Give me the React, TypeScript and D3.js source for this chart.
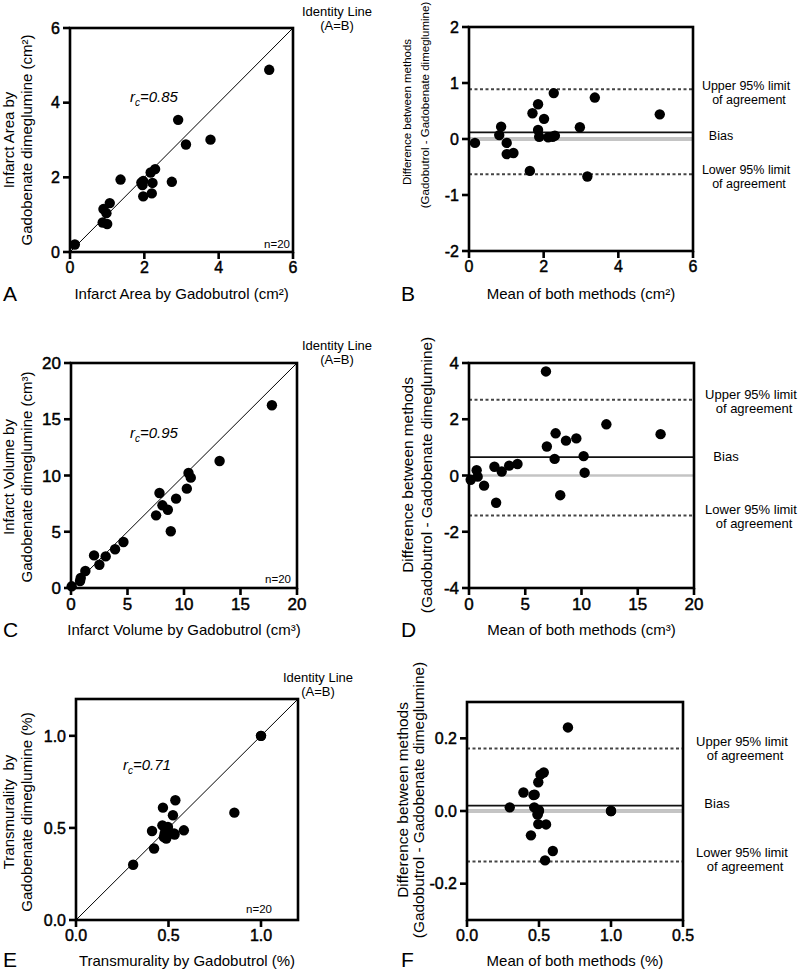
import React from "react";
import * as d3 from "d3";

const FONT = "'Liberation Sans', Arial, Helvetica, sans-serif";

// ---------- Panel A: infarct area (cm²) ----------
const areaGadobutrol = [0.13, 0.9, 1.07, 0.98, 0.88, 1.0, 1.36, 1.92, 1.95, 1.97, 1.97, 2.17, 2.29, 2.22, 2.2, 2.74, 2.91, 3.12, 3.78, 5.36];
const areaGadobenate = [0.2, 1.15, 1.31, 1.04, 0.79, 0.75, 1.94, 1.86, 1.79, 1.9, 1.49, 2.13, 2.22, 1.85, 1.57, 1.88, 3.54, 2.88, 3.01, 4.88];
const areaTicks = [0, 2, 4, 6];

// ---------- Panel B: Bland-Altman area ----------
const areaMean = [0.16, 0.81, 0.86, 1.01, 1.01, 1.19, 1.63, 1.7, 1.85, 1.85, 1.88, 2.01, 2.12, 2.24, 2.27, 2.97, 3.17, 3.37, 5.11, 2.3];
const areaDiff = [-0.07, 0.07, 0.22, -0.07, -0.27, -0.25, -0.57, 0.46, 0.62, 0.16, 0.04, 0.36, 0.03, 0.04, 0.82, 0.21, -0.67, 0.74, 0.44, 0.06];
const areaDiffTicks = [-2, -1, 0, 1, 2];
const areaLimits = [0.89, 0.12, -0.63]; // upper, bias, lower

// ---------- Panel C: infarct volume (cm³) ----------
const volGadobutrol = [0.06, 0.8, 0.86, 1.27, 2.04, 2.51, 3.07, 3.9, 4.64, 7.53, 7.83, 8.09, 8.57, 8.83, 9.3, 10.25, 10.4, 10.6, 13.15, 17.78];
const volGadobenate = [0.15, 0.62, 0.89, 1.51, 2.9, 2.07, 2.81, 3.44, 4.09, 6.46, 8.44, 7.35, 6.96, 5.04, 7.94, 8.83, 10.22, 9.81, 11.29, 16.24];
const volTicks = [0, 5, 10, 15, 20];

// ---------- Panel D: Bland-Altman volume ----------
const volMean = [0.15, 0.68, 0.77, 1.34, 2.26, 2.41, 2.91, 3.57, 4.31, 6.84, 6.92, 7.61, 7.7, 8.11, 8.62, 9.54, 10.19, 10.28, 12.21, 17.03];
const volDiff = [-0.15, 0.19, -0.04, -0.36, 0.31, -0.97, 0.14, 0.35, 0.41, 3.7, 1.03, 0.59, 1.5, -0.7, 1.24, 1.32, 0.69, 0.1, 1.82, 1.47];
const volDiffTicks = [-4, -2, 0, 2, 4];
const volLimits = [2.69, 0.65, -1.42];

// ---------- Panel E: transmurality (%) ----------
const trGadobutrol = [0.309, 0.422, 0.411, 0.467, 0.479, 0.488, 0.497, 0.47, 0.524, 0.537, 0.533, 0.583, 0.856, 1.0, 0.49, 0.48, 0.5, 0.475, 0.53, 1.0];
const trGadobenate = [0.3, 0.388, 0.483, 0.514, 0.469, 0.442, 0.505, 0.61, 0.569, 0.65, 0.464, 0.487, 0.583, 1.0, 0.46, 0.5, 0.48, 0.45, 0.47, 1.0];
const trTicks = [0, 0.5, 1.0];
const trTickLabels = ["0.0", "0.5", "1.0"];

// ---------- Panel F: Bland-Altman transmurality ----------
const trMean = [0.297, 0.392, 0.462, 0.467, 0.444, 0.495, 0.495, 0.498, 0.491, 0.533, 0.51, 0.549, 0.542, 0.596, 0.701, 1.0, 0.47, 0.5, 0.49, 1.0];
const trDiff = [0.01, 0.051, 0.044, 0.01, -0.067, 0.079, -0.036, 0.003, -0.008, 0.106, 0.1, -0.037, -0.136, -0.11, 0.23, 0.0, 0.045, 0.0, -0.01, 0.0];
const trMeanTicks = [0, 0.5, 1.0, 1.5];
const trMeanTickLabels = ["0.0", "0.5", "1.0", "0.5"];
const trDiffTicks = [-0.2, 0, 0.2];
const trDiffTickLabels = ["-0.2", "0.0", "0.2"];
const trLimits = [0.172, 0.015, -0.139];

type Box = { left: number; right: number; top: number; bottom: number };

function Axes(props: {
  box: Box;
  x: d3.ScaleLinear<number, number>;
  y: d3.ScaleLinear<number, number>;
  xTicks: number[];
  yTicks: number[];
  xLabels?: string[];
  yLabels?: string[];
  fs: number;
}) {
  const { box, x, y, xTicks, yTicks, xLabels, yLabels, fs } = props;
  const tl = 7;
  return (
    <g>
      <rect x={box.left} y={box.top} width={box.right - box.left} height={box.bottom - box.top} fill="none" stroke="#000" strokeWidth={2.6} />
      <g stroke="#000" strokeWidth={0.45}>
        {xTicks.map((t, i) => (
          <g key={"x" + i}>
            <line x1={x(t)} x2={x(t)} y1={box.bottom} y2={box.bottom + tl} stroke="#000" strokeWidth={2.6} />
            <text x={x(t)} y={box.bottom + tl + fs * 0.9} textAnchor="middle" fontSize={fs}>
              {xLabels ? xLabels[i] : String(t)}
            </text>
          </g>
        ))}
        {yTicks.map((t, i) => (
          <g key={"y" + i}>
            <line x1={box.left - tl} x2={box.left} y1={y(t)} y2={y(t)} stroke="#000" strokeWidth={2.6} />
            <text x={box.left - tl - 3} y={y(t) + fs * 0.36} textAnchor="end" fontSize={fs}>
              {yLabels ? yLabels[i] : String(t)}
            </text>
          </g>
        ))}
      </g>
    </g>
  );
}

function YTitle(props: { x: number; y: number; fs: number; text: string }) {
  return (
    <text transform={`translate(${props.x},${props.y}) rotate(-90)`} textAnchor="middle" fontSize={props.fs} style={{ whiteSpace: "pre" }}>
      {props.text}
    </text>
  );
}

function Dots(props: { xs: number[]; ys: number[]; x: any; y: any; r: number }) {
  return (
    <g>
      {props.xs.map((v, i) => (
        <circle key={i} cx={props.x(v)} cy={props.y(props.ys[i])} r={props.r} fill="#000" />
      ))}
    </g>
  );
}

function Scatter(p: {
  box: Box;
  domain: [number, number];
  ticks: number[];
  tickLabels?: string[];
  xs: number[];
  ys: number[];
  fs: number;
  yt1: string;
  yt2: string;
  ytY: number;
  xt: string;
  xtY: number;
  letter: string;
  letterY: number;
  idX: number;
  idY: number;
  rc: string;
  rcX: number;
  rcY: number;
  nX: number;
  nY: number;
}) {
  const x = d3.scaleLinear().domain(p.domain).range([p.box.left, p.box.right]);
  const y = d3.scaleLinear().domain(p.domain).range([p.box.bottom, p.box.top]);
  return (
    <g>
      <line x1={x(p.domain[0])} y1={y(p.domain[0])} x2={x(p.domain[1])} y2={y(p.domain[1])} stroke="#000" strokeWidth={1} />
      <Dots xs={p.xs} ys={p.ys} x={x} y={y} r={5.2} />
      <Axes box={p.box} x={x} y={y} xTicks={p.ticks} yTicks={p.ticks} xLabels={p.tickLabels} yLabels={p.tickLabels} fs={p.fs} />
      <YTitle x={14} y={p.ytY} fs={15} text={p.yt1} />
      <YTitle x={32} y={p.ytY} fs={15} text={p.yt2} />
      <text x={(p.box.left + p.box.right) / 2} y={p.xtY} textAnchor="middle" fontSize={15}>{p.xt}</text>
      <text x={3} y={p.letterY} fontSize={21}>{p.letter}</text>
      <text x={p.idX} y={p.idY} textAnchor="middle" fontSize={13}>Identity Line</text>
      <text x={p.idX} y={p.idY + 14} textAnchor="middle" fontSize={13}>(A=B)</text>
      <text x={p.rcX} y={p.rcY} fontSize={15} fontStyle="italic">
        r<tspan fontSize={10} dy={4}>c</tspan>
        <tspan dy={-4}>={p.rc}</tspan>
      </text>
      <text x={p.nX} y={p.nY} textAnchor="end" fontSize={11.5}>n=20</text>
    </g>
  );
}

function BlandAltman(p: {
  box: Box;
  xDomain: [number, number];
  yDomain: [number, number];
  xTicks: number[];
  yTicks: number[];
  xLabels?: string[];
  yLabels?: string[];
  xs: number[];
  ys: number[];
  limits: number[];
  fs: number;
  titleFs: number;
  yt1X: number;
  yt2X: number;
  yt1Y: number;
  yt2Y: number;
  xt: string;
  xtY: number;
  letter: string;
  letterY: number;
  labelX: number;
  labelFs: number;
  upperY: number;
  biasY: number;
  lowerY: number;
  zeroW: number;
}) {
  const x = d3.scaleLinear().domain(p.xDomain).range([p.box.left, p.box.right]);
  const y = d3.scaleLinear().domain(p.yDomain).range([p.box.bottom, p.box.top]);
  const [up, bias, lo] = p.limits;
  const L = p.box.left, R = p.box.right;
  return (
    <g>
      <line x1={L} x2={R} y1={y(0)} y2={y(0)} stroke="#c4c4c4" strokeWidth={p.zeroW} />
      <line x1={L} x2={R} y1={y(bias)} y2={y(bias)} stroke="#111" strokeWidth={1.8} />
      <line x1={L} x2={R} y1={y(up)} y2={y(up)} stroke="#444" strokeWidth={2} strokeDasharray="3,2.5" />
      <line x1={L} x2={R} y1={y(lo)} y2={y(lo)} stroke="#444" strokeWidth={2} strokeDasharray="3,2.5" />
      <Dots xs={p.xs} ys={p.ys} x={x} y={y} r={5.2} />
      <Axes box={p.box} x={x} y={y} xTicks={p.xTicks} yTicks={p.yTicks} xLabels={p.xLabels} yLabels={p.yLabels} fs={p.fs} />
      <YTitle x={p.yt1X} y={p.yt1Y} fs={p.titleFs} text="Difference between methods" />
      <YTitle x={p.yt2X} y={p.yt2Y} fs={p.titleFs} text="(Gadobutrol - Gadobenate dimeglumine)" />
      <text x={(L + R) / 2} y={p.xtY} textAnchor="middle" fontSize={15}>{p.xt}</text>
      <text x={401} y={p.letterY} fontSize={21}>{p.letter}</text>
      <g fontSize={p.labelFs} textAnchor="middle">
        <text x={p.labelX} y={p.upperY}>Upper 95% limit</text>
        <text x={p.labelX + 3} y={p.upperY + 14}>of agreement</text>
        <text x={p.labelX - 25} y={p.biasY}>Bias</text>
        <text x={p.labelX} y={p.lowerY}>Lower 95% limit</text>
        <text x={p.labelX + 3} y={p.lowerY + 14}>of agreement</text>
      </g>
    </g>
  );
}

export default function App() {
  return (
    <svg width={800} height={972} style={{ position: "absolute", left: 0, top: 0, background: "#fff" }} fontFamily={FONT} fill="#000">
      <rect width={800} height={972} fill="#fff" />
      <Scatter
        box={{ left: 70, right: 293, top: 28, bottom: 252 }}
        domain={[0, 6]} ticks={areaTicks} xs={areaGadobutrol} ys={areaGadobenate} fs={16}
        yt1="Infarct Area by" yt2="Gadobenate dimeglumine (cm²)" ytY={140}
        xt="Infarct Area by Gadobutrol (cm²)" xtY={299} letter="A" letterY={301}
        idX={337} idY={16} rc="0.85" rcX={130} rcY={102} nX={290} nY={248}
      />
      <BlandAltman
        box={{ left: 469, right: 693, top: 27, bottom: 251 }}
        xDomain={[0, 6]} yDomain={[-2, 2]} xTicks={areaTicks} yTicks={areaDiffTicks}
        xs={areaMean} ys={areaDiff} limits={areaLimits} fs={16} titleFs={11.5}
        yt1X={411} yt2X={429} yt1Y={112} yt2Y={105}
        xt="Mean of both methods (cm²)" xtY={299} letter="B" letterY={301}
        labelX={746} labelFs={12.5} upperY={90} biasY={140} lowerY={174} zeroW={4}
      />
      <Scatter
        box={{ left: 71, right: 297, top: 363, bottom: 588 }}
        domain={[0, 20]} ticks={volTicks} xs={volGadobutrol} ys={volGadobenate} fs={17}
        yt1="Infarct Volume by" yt2="Gadobenate dimeglumine (cm³)" ytY={477}
        xt="Infarct Volume by Gadobutrol (cm³)" xtY={635} letter="C" letterY={637}
        idX={337} idY={350} rc="0.95" rcX={130} rcY={438} nX={291} nY={583}
      />
      <BlandAltman
        box={{ left: 469, right: 694, top: 363, bottom: 588 }}
        xDomain={[0, 20]} yDomain={[-4, 4]} xTicks={volTicks} yTicks={volDiffTicks}
        xs={volMean} ys={volDiff} limits={volLimits} fs={17} titleFs={15.4}
        yt1X={413} yt2X={432} yt1Y={475} yt2Y={475}
        xt="Mean of both methods (cm³)" xtY={635} letter="D" letterY={637}
        labelX={751} labelFs={13} upperY={399} biasY={461} lowerY={514} zeroW={2.5}
      />
      <Scatter
        box={{ left: 76, right: 298, top: 699, bottom: 920 }}
        domain={[0, 1.2]} ticks={trTicks} tickLabels={trTickLabels} xs={trGadobutrol} ys={trGadobenate} fs={16}
        yt1="Transmurality  by" yt2="Gadobenate dimeglumine (%)" ytY={812}
        xt="Transmurality by Gadobutrol (%)" xtY={966} letter="E" letterY={967}
        idX={318} idY={682} rc="0.71" rcX={123} rcY={770} nX={272} nY={913}
      />
      <BlandAltman
        box={{ left: 467, right: 683, top: 702, bottom: 920 }}
        xDomain={[0, 1.5]} yDomain={[-0.3, 0.3]} xTicks={trMeanTicks} yTicks={trDiffTicks}
        xLabels={trMeanTickLabels} yLabels={trDiffTickLabels}
        xs={trMean} ys={trDiff} limits={trLimits} fs={16} titleFs={15.4}
        yt1X={408} yt2X={424} yt1Y={800} yt2Y={800}
        xt="Mean of both methods (%)" xtY={966} letter="F" letterY={967}
        labelX={742} labelFs={13} upperY={746} biasY={808} lowerY={857} zeroW={4}
      />
    </svg>
  );
}
